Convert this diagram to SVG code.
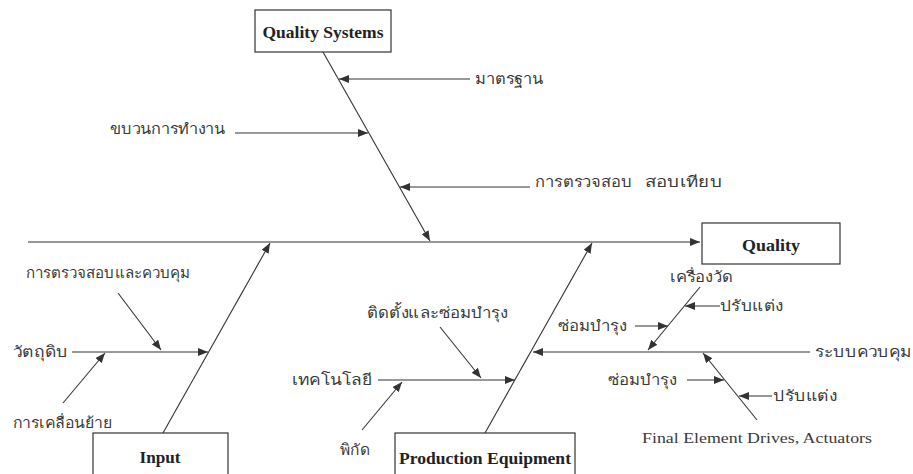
<svg xmlns="http://www.w3.org/2000/svg" width="913" height="474" viewBox="0 0 913 474">
<style>
.box{fill:#fff;stroke:#333;stroke-width:1.2}
.t{font-family:"Liberation Serif",serif;font-weight:bold;font-size:17px;fill:#222;text-anchor:middle}
.th{font-family:"Noto Sans","DejaVu Sans",sans-serif;font-size:15px;fill:#3a3a3a}
.en{font-family:"Liberation Serif",serif;font-size:15px;fill:#3a3a3a}
.a{stroke:#333;stroke-width:1.1;fill:none;marker-end:url(#ah)}
</style>
<defs>
<marker id="ah" viewBox="0 0 10 8" refX="10" refY="4" markerWidth="10" markerHeight="8" markerUnits="userSpaceOnUse" orient="auto">
<path d="M0,0 L10,4 L0,8 Z" fill="#333"/>
</marker>
</defs>
<rect width="913" height="474" fill="#fff"/>
<g id="connectors">
<line class="a" x1="28" y1="242" x2="700" y2="242"/>
<line class="a" x1="323" y1="52" x2="430" y2="241"/>
<line class="a" x1="470" y1="79" x2="339" y2="79"/>
<line class="a" x1="235" y1="133" x2="368" y2="133"/>
<line class="a" x1="530" y1="187" x2="400" y2="187"/>
<line class="a" x1="163" y1="433" x2="270" y2="243"/>
<line class="a" x1="72" y1="352" x2="208" y2="352"/>
<line class="a" x1="118" y1="293" x2="161" y2="350"/>
<line class="a" x1="63" y1="403" x2="105" y2="353"/>
<line class="a" x1="485" y1="433" x2="592" y2="243"/>
<line class="a" x1="378" y1="380" x2="515" y2="380"/>
<line class="a" x1="440" y1="327" x2="481" y2="378"/>
<line class="a" x1="362" y1="430" x2="402" y2="382"/>
<line class="a" x1="810" y1="352" x2="533" y2="352"/>
<line class="a" x1="700" y1="287" x2="648" y2="350"/>
<line class="a" x1="720" y1="306" x2="685" y2="306"/>
<line class="a" x1="635" y1="326" x2="668" y2="326"/>
<line class="a" x1="757" y1="420" x2="703" y2="353"/>
<line class="a" x1="687" y1="380" x2="724" y2="380"/>
<line class="a" x1="772" y1="396" x2="739" y2="396"/>
</g>
<g id="quality-systems"><rect class="box" x="255" y="10" width="136" height="42"/><text class="t" x="323" y="38" textLength="121" lengthAdjust="spacingAndGlyphs">Quality Systems</text></g>
<g id="quality"><rect class="box" x="702" y="223" width="138" height="41"/><text class="t" x="771" y="251" textLength="58" lengthAdjust="spacingAndGlyphs">Quality</text></g>
<g id="input"><rect class="box" x="93" y="433" width="135" height="45"/><text class="t" x="160" y="463" textLength="41" lengthAdjust="spacingAndGlyphs">Input</text></g>
<g id="production-equipment"><rect class="box" x="395" y="433" width="180" height="45"/><text class="t" x="485" y="464" textLength="172" lengthAdjust="spacingAndGlyphs">Production Equipment</text></g>
<g id="labels">
<text class="th" x="475" y="84" textLength="68" lengthAdjust="spacingAndGlyphs">มาตรฐาน</text>
<text class="th" x="110" y="134" textLength="115" lengthAdjust="spacingAndGlyphs">ขบวนการทำงาน</text>
<text class="th" x="535" y="187" textLength="97" lengthAdjust="spacingAndGlyphs">การตรวจสอบ</text>
<text class="th" x="645" y="187" textLength="77" lengthAdjust="spacingAndGlyphs">สอบเทียบ</text>
<text class="th" x="26" y="278" textLength="164" lengthAdjust="spacingAndGlyphs">การตรวจสอบและควบคุม</text>
<text class="th" x="13" y="357" textLength="55" lengthAdjust="spacingAndGlyphs">วัตถุดิบ</text>
<text class="th" x="13" y="428" textLength="99" lengthAdjust="spacingAndGlyphs">การเคลื่อนย้าย</text>
<text class="th" x="367" y="318" textLength="141" lengthAdjust="spacingAndGlyphs">ติดตั้งและซ่อมบำรุง</text>
<text class="th" x="292" y="385" textLength="80" lengthAdjust="spacingAndGlyphs">เทคโนโลยี</text>
<text class="th" x="340" y="455" textLength="30" lengthAdjust="spacingAndGlyphs">พิกัด</text>
<text class="th" x="815" y="357" textLength="97" lengthAdjust="spacingAndGlyphs">ระบบควบคุม</text>
<text class="th" x="670" y="282" textLength="63" lengthAdjust="spacingAndGlyphs">เครื่องวัด</text>
<text class="th" x="720" y="311" textLength="63" lengthAdjust="spacingAndGlyphs">ปรับแต่ง</text>
<text class="th" x="558" y="331" textLength="69" lengthAdjust="spacingAndGlyphs">ซ่อมบำรุง</text>
<text class="th" x="608" y="385" textLength="69" lengthAdjust="spacingAndGlyphs">ซ่อมบำรุง</text>
<text class="th" x="773" y="401" textLength="64" lengthAdjust="spacingAndGlyphs">ปรับแต่ง</text>
<text class="en" x="642" y="443" textLength="230" lengthAdjust="spacingAndGlyphs">Final Element Drives, Actuators</text>
</g>
</svg>
